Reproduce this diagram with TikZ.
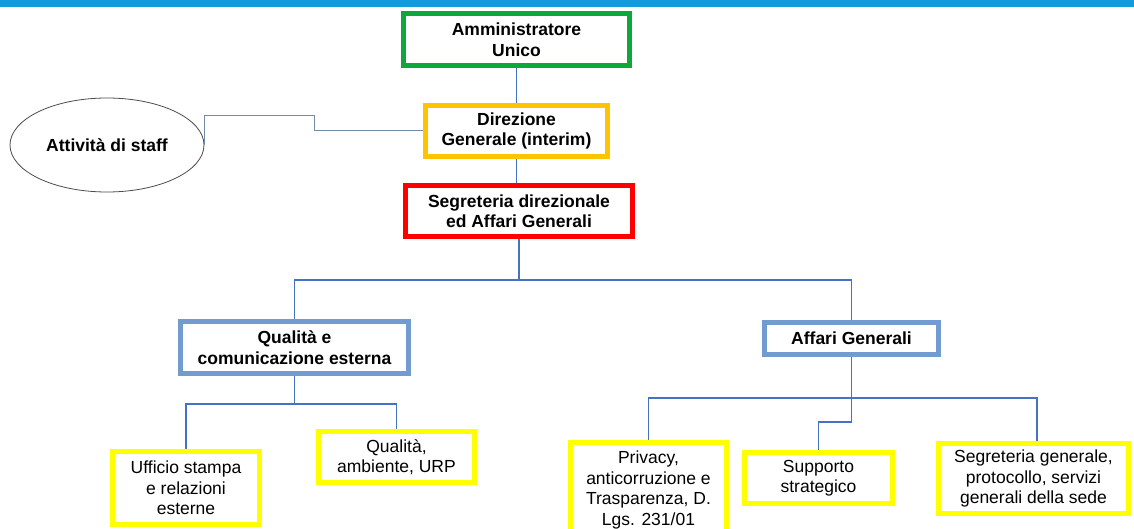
\documentclass[tikz,border=0pt]{standalone}
\usepackage{fontspec}
\setmainfont{Liberation Sans}
\usetikzlibrary{shapes.geometric}
\definecolor{topbar}{RGB}{22,155,218}
\definecolor{bgreen}{RGB}{12,168,58}
\definecolor{borange}{RGB}{255,196,0}
\definecolor{bred}{RGB}{255,0,0}
\definecolor{bblue}{RGB}{114,155,207}
\definecolor{byellow}{RGB}{255,255,0}
\definecolor{conn}{RGB}{68,114,196}
\definecolor{staffconn}{RGB}{112,140,170}
\tikzset{
  box/.style={draw, line width=5pt, fill=white, inner sep=0pt, align=center,
    font=\fontsize{17.5}{20.5}\selectfont},
  boldbox/.style={box, font=\fontsize{17.5}{20.5}\selectfont\bfseries},
  conline/.style={draw=conn, line width=1.4pt},
  staffline/.style={draw=staffconn, line width=1pt},
}
\begin{document}
\begin{tikzpicture}[x=1pt,y=-1pt]
\clip (0,0) rectangle (1134,529);
\fill[white] (0,0) rectangle (1134,529);
\fill[topbar] (0,0) rectangle (1134,7);

% staff ellipse
\node[ellipse, draw=black!70, line width=0.8pt, minimum width=194pt, minimum height=94pt, inner sep=0pt,
  font=\fontsize{17.5}{20.5}\selectfont\bfseries] (stf) at (107,145) {Attività di staff};

% nodes
\node[boldbox, draw=bgreen, minimum width=226pt, minimum height=52pt] (amm) at (516.5,39.5) {Amministratore\\Unico};
\node[boldbox, draw=borange, minimum width=182pt, minimum height=51pt] (dir) at (516.5,131) {Direzione\\Generale (interim)};
\node[boldbox, draw=bred, minimum width=227pt, minimum height=51pt] (seg) at (519,211) {Segreteria direzionale\\ed Affari Generali};
\node[boldbox, draw=bblue, minimum width=228pt, minimum height=52pt] (qual) at (294.5,347.5) {Qualità e\\comunicazione esterna};
\node[boldbox, draw=bblue, minimum width=174pt, minimum height=32pt] (aff) at (851.5,338.5) {Affari Generali};
\node[box, draw=byellow, minimum width=147pt, minimum height=73pt] (uff) at (186,488) {Ufficio stampa\\e relazioni\\esterne};
\node[box, draw=byellow, minimum width=156pt, minimum height=51pt] (qamb) at (396.5,457) {Qualità,\\ambiente, URP};
\node[box, draw=byellow, minimum width=156pt, minimum height=95pt] (priv) at (648.5,490) {Privacy,\\anticorruzione e\\Trasparenza, D.\\Lgs. 231/01};
\node[box, draw=byellow, minimum width=148pt, minimum height=51pt] (sup) at (818.5,478) {Supporto\\strategico};
\node[box, draw=byellow, minimum width=190pt, minimum height=70pt] (sgen) at (1033.5,478.5) {Segreteria generale,\\protocollo, servizi\\generali della sede};

% hub coordinates
\coordinate (s1) at (314,116);
\coordinate (hub1) at (519,280);
\coordinate (hub2) at (294.5,404);
\coordinate (hub3) at (851.5,398);
\coordinate (hub4) at (851.5,422);

% connectors
\draw[staffline] (stf.east) |- (s1) |- (dir.west);
\draw[conline] (amm.south) -- (dir.north);
\draw[conline] (dir.south) -- (dir.south |- seg.north);
\draw[conline] (seg.south) -- (seg.south |- hub1);
\draw[conline] (qual.north) |- (hub1) -| (aff.north);
\draw[conline] (qual.south) -- (hub2);
\draw[conline] (hub2) -| (uff.north);
\draw[conline] (hub2) -| (qamb.north);
\draw[conline] (aff.south) -- (hub4);
\draw[conline] (hub3) -| (priv.north);
\draw[conline] (hub3) -| ([xshift=3.5pt]sgen.north);
\draw[conline] (hub4) -| (sup.north);
\end{tikzpicture}
\end{document}
